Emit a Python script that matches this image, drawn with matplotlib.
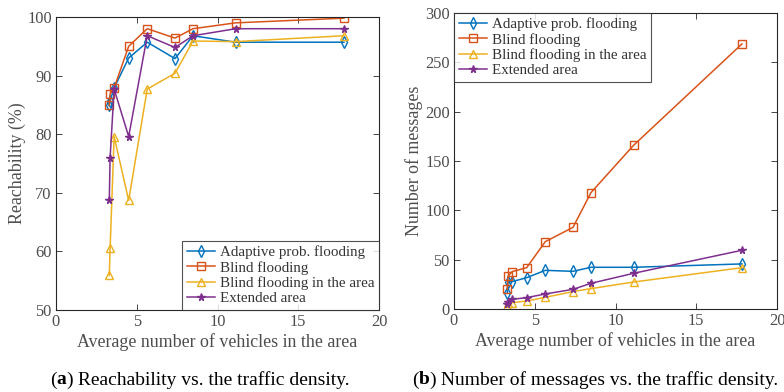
import matplotlib
matplotlib.use("Agg")
import matplotlib.pyplot as plt

plt.rcParams['font.family'] = ['Liberation Serif', 'DejaVu Serif']

x = [3.3, 3.35, 3.6, 4.5, 5.65, 7.37, 8.48, 11.12, 17.83]

# Reachability (%)
reach_adaptive = [84.9, 85.7, 87.9, 93.0, 95.7, 92.9, 96.8, 95.7, 95.7]
reach_blind = [84.9, 86.9, 87.9, 95.0, 98.0, 96.4, 98.0, 99.0, 99.8]
reach_blind_area = [55.9, 60.5, 79.6, 68.7, 87.7, 90.4, 95.9, 95.8, 96.8]
reach_extended = [68.8, 76.0, 87.7, 79.6, 96.8, 94.8, 96.8, 98.0, 98.0]

# Number of messages
msg_adaptive = [16.2, 28.0, 28.0, 32.0, 39.4, 38.4, 42.5, 42.5, 45.9]
msg_blind = [20.2, 33.7, 38.1, 42.1, 68.4, 82.9, 118.0, 165.9, 268.4]
msg_blind_area = [3.4, 6.0, 6.7, 8.4, 12.1, 17.9, 20.9, 27.6, 42.1]
msg_extended = [5.5, 7.5, 10.1, 11.8, 15.5, 20.2, 26.3, 36.4, 59.7]

labels = ['Adaptive prob. flooding', 'Blind flooding',
          'Blind flooding in the area', 'Extended area']
colors = ['#0072BD', '#D95319', '#EDB120', '#7E2F8E']
markers = ['d', 's', '^', '*']

fig = plt.figure(figsize=(7.84, 3.92), dpi=100)
ax1 = fig.add_axes([56/784, 1-310/392, 323/784, 293/392])
ax2 = fig.add_axes([454/784, 1-309.3/392, 323/784, 296.6/392])

axis_col = '#262626'
text_col = '#4d4d4d'

def style(ax):
    for s in ax.spines.values():
        s.set_color(axis_col)
        s.set_linewidth(0.8)
    ax.tick_params(direction='in', top=True, right=True, length=4,
                   width=0.6, colors=axis_col, labelsize=11.8,
                   labelcolor=text_col, pad=3)
    ax.set_xlim(0, 20)
    ax.set_xticks([0, 5, 10, 15, 20])
    ax.set_xlabel('Average number of vehicles in the area', fontsize=12.9,
                  color=text_col, labelpad=2)

def plot_series(ax, ys):
    for y, lab, c, m in zip(ys, labels, colors, markers):
        if m == '*':
            ax.plot(x, y, color=c, marker=m, markersize=5.5, lw=1.1,
                    markerfacecolor=c, markeredgecolor=c, label=lab)
        else:
            ax.plot(x, y, color=c, marker=m, markersize=5.8, lw=1.1,
                    markerfacecolor='none', markeredgecolor=c,
                    markeredgewidth=1.0, label=lab)

def legend(ax, loc):
    leg = ax.legend(loc=loc, fontsize=10.8, frameon=True, fancybox=False,
                    borderaxespad=0, borderpad=0.3, labelspacing=0.12,
                    handlelength=1.9, handletextpad=0.3)
    leg.get_frame().set_edgecolor(axis_col)
    leg.get_frame().set_linewidth(0.8)
    for t in leg.get_texts():
        t.set_color('#333333')

plot_series(ax1, [reach_adaptive, reach_blind, reach_blind_area, reach_extended])
style(ax1)
ax1.set_ylim(50, 100)
ax1.set_yticks([50, 60, 70, 80, 90, 100])
ax1.set_ylabel('Reachability (%)', fontsize=12.9, color=text_col, labelpad=1)
legend(ax1, 'lower right')

plot_series(ax2, [msg_adaptive, msg_blind, msg_blind_area, msg_extended])
style(ax2)
ax2.set_ylim(0, 300)
ax2.set_yticks([0, 50, 100, 150, 200, 250, 300])
ax2.set_ylabel('Number of messages', fontsize=12.9, color=text_col, labelpad=1.5)
legend(ax2, 'upper left')

# Captions with bold subfigure letter
fig.canvas.draw()
r = fig.canvas.get_renderer()

def caption(cx, cy, letter, rest, fs=14):
    parts = [('(', 'normal'), (letter, 'bold'), (')', 'normal'), (' ' + rest, 'normal')]
    texts = []
    for s, w in parts:
        t = fig.text(0, cy, s, fontsize=fs, fontweight=w, ha='left', va='center',
                     color='black')
        texts.append(t)
    widths = [t.get_window_extent(renderer=r).width for t in texts]
    total = sum(widths)
    xp = cx - total / 2
    for t, w in zip(texts, widths):
        t.set_x(xp / 784)
        xp += w

caption(200, 1-380/392, 'a', 'Reachability vs. the traffic density.')
caption(595, 1-380/392, 'b', 'Number of messages vs. the traffic density.')

fig.savefig('out.png', dpi=100)
